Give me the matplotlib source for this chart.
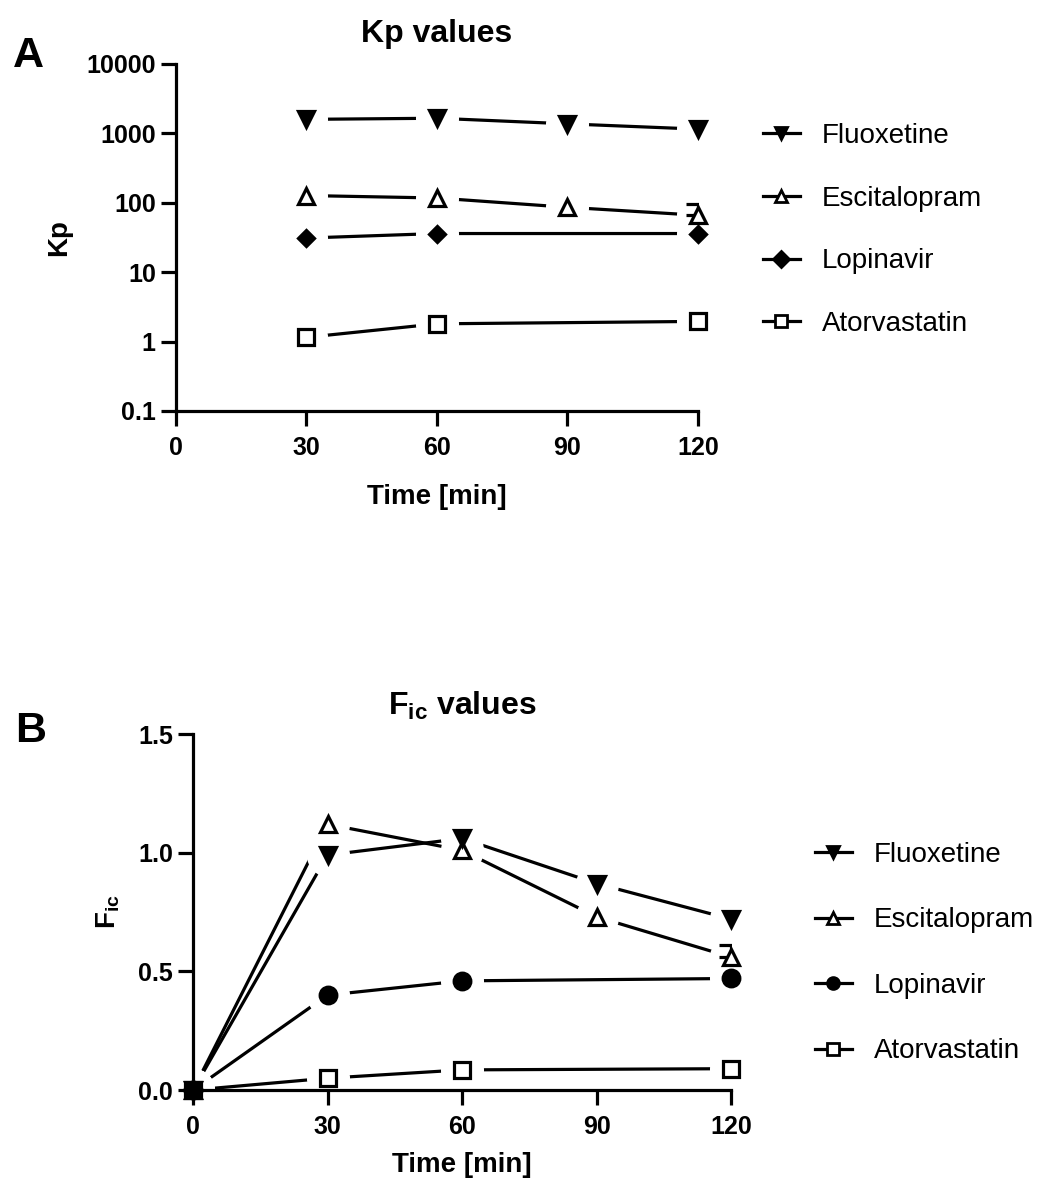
import matplotlib
matplotlib.use("Agg")
import matplotlib.pyplot as plt
from matplotlib.lines import Line2D

plt.rcParams["font.family"] = "Liberation Sans"
plt.rcParams["mathtext.fontset"] = "custom"
plt.rcParams["mathtext.rm"] = "Liberation Sans"
plt.rcParams["mathtext.bf"] = "Liberation Sans:bold"
plt.rcParams["mathtext.it"] = "Liberation Sans:italic"

drugs = ["Fluoxetine", "Escitalopram", "Lopinavir", "Atorvastatin"]
time_ticks = [0, 30, 60, 90, 120]

# panel A - Kp values
kp_t_fluox = [30, 60, 90, 120]
kp_fluox = [1590, 1650, 1370, 1150]
kp_t_escit = [30, 60, 90, 120]
kp_escit = [127, 117, 86, 66]
kp_escit_err = [0, 0, 0, 29]
kp_t_lopi = [30, 60, 120]
kp_lopi = [31, 36, 36]
kp_t_atorva = [30, 60, 120]
kp_atorva = [1.15, 1.8, 1.95]
kp_ticks = [0.1, 1, 10, 100, 1000, 10000]
kp_ticklabels = ["0.1", "1", "10", "100", "1000", "10000"]

# panel B - Fic values
fic_t_fluox = [0, 30, 60, 90, 120]
fic_fluox = [0, 0.99, 1.06, 0.87, 0.72]
fic_t_escit = [0, 30, 60, 90, 120]
fic_escit = [0, 1.12, 1.01, 0.73, 0.56]
fic_escit_err = [0, 0, 0, 0, 0.05]
fic_t_lopi = [0, 30, 60, 120]
fic_lopi = [0, 0.40, 0.46, 0.47]
fic_t_atorva = [0, 30, 60, 120]
fic_atorva = [0, 0.05, 0.085, 0.09]
fic_ticks = [0.0, 0.5, 1.0, 1.5]
fic_ticklabels = ["0.0", "0.5", "1.0", "1.5"]

LW = 2.3
TICKFONT = dict(fontsize=18, fontweight="bold")


def draw_series(ax, t, y, marker, filled, ms, zorder, err=None):
    # connecting line, then a white halo so the line stops short of the marker
    ax.plot(t, y, color="black", lw=LW, zorder=1, clip_on=False)
    ax.plot(t, y, ls="none", marker="o", ms=31, color="white", mew=0,
            zorder=2, clip_on=False)
    if err is not None:
        et = [a for a, e in zip(t, err) if e > 0]
        ey = [b for b, e in zip(y, err) if e > 0]
        eu = [e for e in err if e > 0]
        ax.errorbar(et, ey, yerr=[[0] * len(eu), eu], fmt="none", ecolor="black",
                    elinewidth=LW, capsize=9, capthick=LW, zorder=2.7)
    ax.plot(t, y, ls="none", marker=marker, ms=ms, mew=2.3,
            mfc="black" if filled else "white", mec="black",
            zorder=zorder, clip_on=False)


def style_axes(ax):
    ax.set_axisbelow(False)
    for s in ["top", "right"]:
        ax.spines[s].set_visible(False)
    for s in ["left", "bottom"]:
        ax.spines[s].set_linewidth(LW)
    ax.tick_params(which="major", length=11, width=LW, direction="out")
    ax.tick_params(axis="y", pad=3.5)
    ax.tick_params(axis="x", pad=7)
    ax.minorticks_off()
    ax.set_xlim(0, 120)
    ax.set_xticks(time_ticks)
    ax.set_xticklabels([str(v) for v in time_ticks], **TICKFONT)
    ax.set_xlabel("Time [min]", fontsize=20, fontweight="bold")


def legend_handles(markers, fills, ms):
    return [Line2D([0], [0], color="black", lw=LW, marker=m, ms=ms, mew=2,
                   mfc="black" if f else "white", mec="black")
            for m, f in zip(markers, fills)]


fig = plt.figure(figsize=(10.48, 11.86), dpi=100)

# ---- panel A
axA = fig.add_axes([0.1679, 0.6535, 0.4981, 0.2926])
draw_series(axA, kp_t_atorva, kp_atorva, "s", False, 12, 3)
draw_series(axA, kp_t_escit, kp_escit, "^", False, 12, 3, err=kp_escit_err)
draw_series(axA, kp_t_lopi, kp_lopi, "D", True, 8, 3.2)
draw_series(axA, kp_t_fluox, kp_fluox, "v", True, 12, 3.2)
axA.set_yscale("log")
axA.set_ylim(0.1, 10000)
style_axes(axA)
axA.set_yticks(kp_ticks)
axA.set_yticklabels(kp_ticklabels, **TICKFONT)
axA.minorticks_off()
axA.set_ylabel("Kp", fontsize=20, fontweight="bold")
axA.yaxis.set_label_coords(-0.199, 0.5)
axA.xaxis.set_label_coords(0.5, -0.21)
axA.set_title("Kp values", fontsize=23, fontweight="bold", pad=16)
axA.legend(legend_handles(["v", "^", "D", "s"], [True, False, True, False], 8.5),
           drugs, loc="upper left", bbox_to_anchor=(763 / 1048, 1 - 123 / 1186),
           bbox_transform=fig.transFigure, frameon=False, fontsize=20,
           borderpad=0, borderaxespad=0, handlelength=1.32, handletextpad=0.79,
           labelspacing=1.32, numpoints=1)

# ---- panel B
axB = fig.add_axes([0.1842, 0.0809, 0.5134, 0.3002])
draw_series(axB, fic_t_atorva, fic_atorva, "s", False, 11, 3)
draw_series(axB, fic_t_escit, fic_escit, "^", False, 12, 3, err=fic_escit_err)
draw_series(axB, fic_t_lopi, fic_lopi, "o", True, 12, 3.2)
draw_series(axB, fic_t_fluox, fic_fluox, "v", True, 12, 3.2)
axB.set_ylim(0, 1.5)
style_axes(axB)
axB.set_yticks(fic_ticks)
axB.set_yticklabels(fic_ticklabels, **TICKFONT)
axB.set_ylabel(r"$\mathbf{F_{ic}}$", fontsize=20, fontweight="bold")
axB.yaxis.set_label_coords(-0.132, 0.5)
axB.xaxis.set_label_coords(0.5, -0.175)
axB.set_title(r"$\mathbf{F_{ic}}$ values", fontsize=23, fontweight="bold", pad=14)
axB.legend(legend_handles(["v", "^", "o", "s"], [True, False, True, False], 8.5),
           drugs, loc="upper left", bbox_to_anchor=(815 / 1048, 1 - 842 / 1186),
           bbox_transform=fig.transFigure, frameon=False, fontsize=20,
           borderpad=0, borderaxespad=0, handlelength=1.32, handletextpad=0.79,
           labelspacing=1.42, numpoints=1)

fig.text(13 / 1048, 1 - 67 / 1186, "A", fontsize=31, fontweight="bold", va="baseline")
fig.text(15 / 1048, 1 - 742 / 1186, "B", fontsize=31, fontweight="bold", va="baseline")

fig.savefig("out.png", dpi=100, facecolor="white")
